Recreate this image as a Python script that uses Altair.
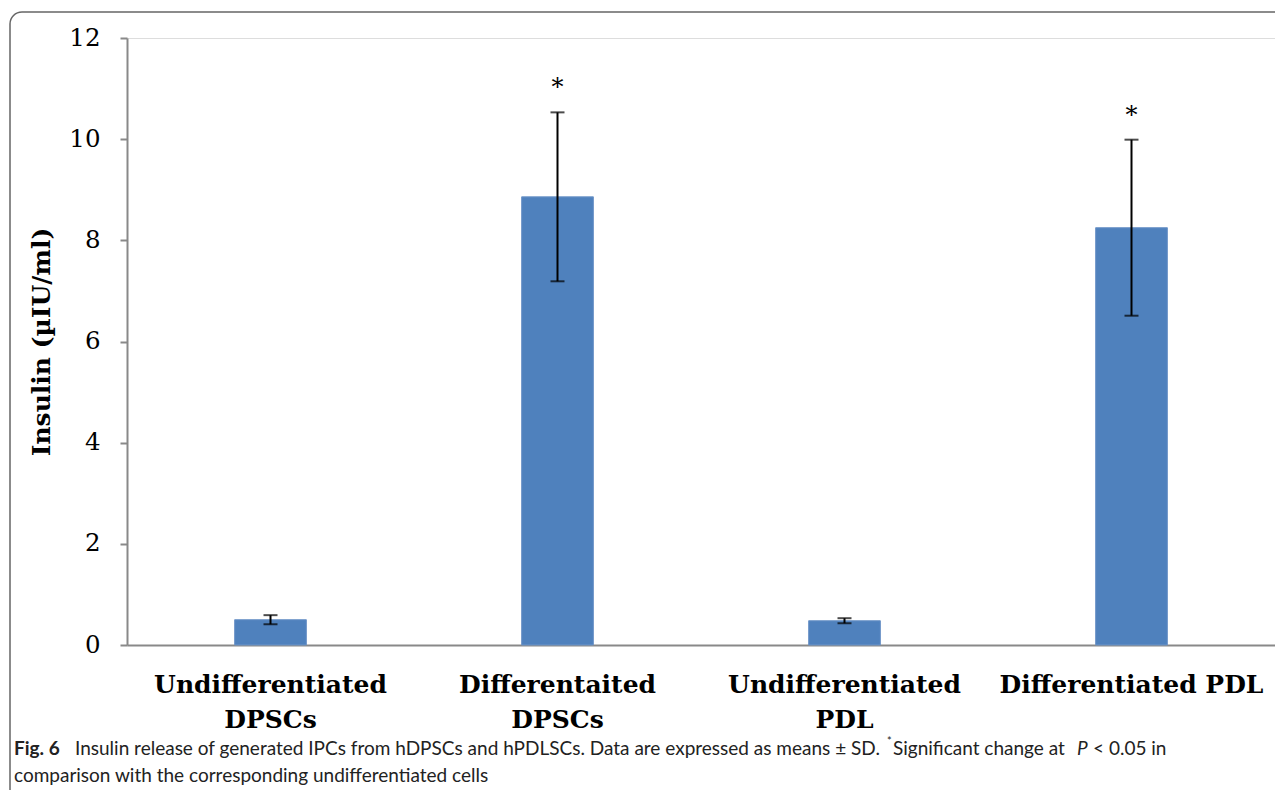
import altair as alt
import pandas as pd

categories = ["Undifferentiated DPSCs", "Differentaited DPSCs", "Undifferentiated PDL", "Differentiated PDL"]
means = [0.50, 8.86, 0.48, 8.25]
sds = [0.09, 1.67, 0.05, 1.74]
significant = [False, True, False, True]
y_ticks = [0, 2, 4, 6, 8, 10, 12]

df = pd.DataFrame({
    "cat": categories,
    "mean": means,
    "lo": [m - s for m, s in zip(means, sds)],
    "hi": [m + s for m, s in zip(means, sds)],
    "sig": ["*" if s else "" for s in significant],
})

W, H = 1148, 607
SERIF = "DejaVu Serif"
CAP = "Lato"
CAPSIZE = 19

x = alt.X("cat:N", sort=categories, title=None,
          scale=alt.Scale(paddingInner=0.75, paddingOuter=0.375),
          axis=alt.Axis(labelAngle=0, ticks=False, domainColor="#898989", domainWidth=2,
                        labelFont=SERIF, labelFontSize=25, labelFontWeight="bold",
                        labelColor="#000000", labelPadding=27, labelLineHeight=35,
                        labelLimit=400,
                        labelExpr="datum.label == 'Differentiated PDL' ? datum.label : split(datum.label, ' ')"))
y = alt.Y("mean:Q", title="Insulin (µIU/ml)",
          scale=alt.Scale(domain=[0, 12], nice=False),
          axis=alt.Axis(values=y_ticks, grid=False, domainColor="#898989", domainWidth=2,
                        tickColor="#898989", tickWidth=2, tickSize=7,
                        labelFont=SERIF, labelFontSize=24.5, labelColor="#000000",
                        labelPadding=20,
                        titleFont=SERIF, titleFontSize=25, titleFontWeight="bold",
                        titleColor="#000000", titlePadding=14))

base = alt.Chart(df)

bars = base.mark_bar(color="#4F81BD", stroke="#6E95C8", strokeWidth=1).encode(x=x, y=y)
rules = base.mark_rule(color="#000000", strokeWidth=2).encode(
    x=alt.X("cat:N", sort=categories), y="lo:Q", y2="hi:Q")
caps_hi = base.mark_tick(color="#000000", size=14, thickness=2).encode(
    x=alt.X("cat:N", sort=categories), y="hi:Q")
caps_lo = base.mark_tick(color="#000000", size=14, thickness=2).encode(
    x=alt.X("cat:N", sort=categories), y="lo:Q")
stars = base.mark_text(font=SERIF, fontSize=24, dy=-24, baseline="middle", color="#000000").encode(
    x=alt.X("cat:N", sort=categories), y="hi:Q", text="sig:N")

frame = alt.Chart(pd.DataFrame({"k": [0]})).mark_rect(
    fill="transparent", stroke="#666666", strokeWidth=1.5, cornerRadius=12).encode(
    x=alt.value(-117), x2=alt.value(W + 40), y=alt.value(-26), y2=alt.value(H + 300))

cap_df = pd.DataFrame({"k": [0]})


def cap_text(txt, px, py, size=CAPSIZE, **kw):
    return alt.Chart(cap_df).mark_text(font=CAP, fontSize=size, align="left",
                                       baseline="middle", color="#222222", **kw).encode(
        x=alt.value(px), y=alt.value(py), text=alt.value(txt))


cap1 = cap_text("Fig. 6", -113, 711, fontWeight="bold")
cap2 = cap_text("Insulin release of generated IPCs from hDPSCs and hPDLSCs. Data are expressed as means ± SD.", -52, 711)
cap3 = cap_text("*", 760, 704, size=11)
cap4 = cap_text("Significant change at", 766, 711)
cap5 = cap_text("P", 950, 711, fontStyle="italic")
cap6 = cap_text("< 0.05 in", 966, 711)
cap7 = cap_text("comparison with the corresponding undifferentiated cells", -113, 738)

chart = alt.layer(frame, bars, rules, caps_hi, caps_lo, stars,
                  cap1, cap2, cap3, cap4, cap5, cap6, cap7).properties(
    width=W, height=H,
    autosize=alt.AutoSizeParams(type="none"),
    padding={"left": 119, "top": 30, "right": 0, "bottom": 145},
).configure_view(stroke=None).configure(background="#ffffff")

chart.save("out.html", embed_options={"renderer": "svg", "actions": False})
